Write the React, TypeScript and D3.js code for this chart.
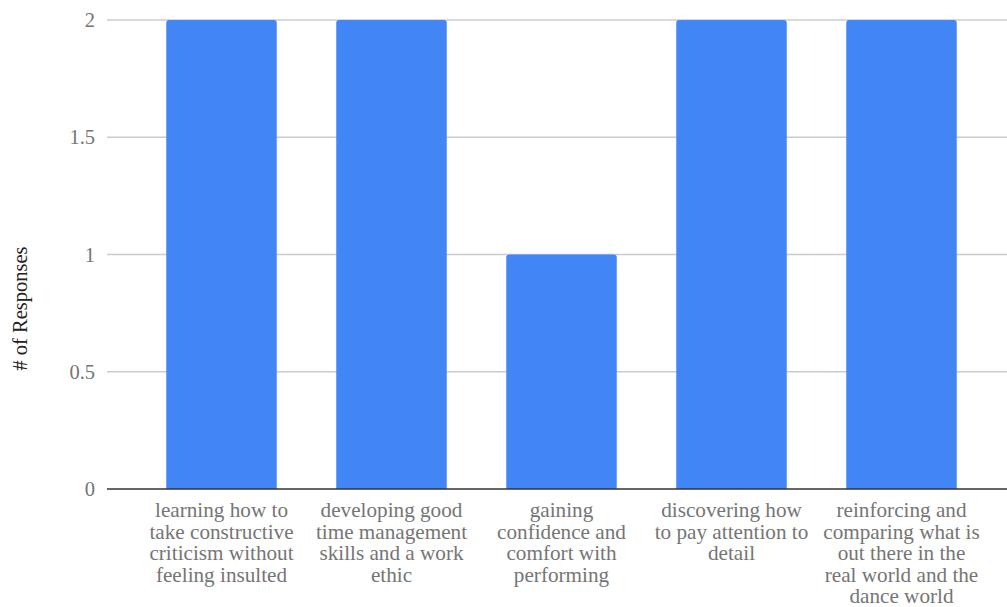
import React from "react";
import * as d3 from "d3";

const categories: string[][] = [
  ["learning how to", "take constructive", "criticism without", "feeling insulted"],
  ["developing good", "time management", "skills and a work", "ethic"],
  ["gaining", "confidence and", "comfort with", "performing"],
  ["discovering how", "to pay attention to", "detail"],
  ["reinforcing and", "comparing what is", "out there in the", "real world and the", "dance world"],
];
const values: number[] = [2, 2, 1, 2, 2];
const yTicks: number[] = [0, 0.5, 1, 1.5, 2];
const yTitle = "# of Responses";

const W = 1007;
const H = 607;
const FONT = "'Liberation Serif', 'Times New Roman', serif";

export default function App() {
  const x = d3
    .scaleBand<number>()
    .domain(values.map((_, i) => i))
    .range([136.5, 986.5])
    .paddingInner(0.35)
    .paddingOuter(0.175);
  const y = d3.scaleLinear().domain([0, 2]).range([489, 20]);
  const r = 3;
  const barPath = (x0: number, y0: number, w: number, h: number) =>
    `M${x0},${y0 + h}V${y0 + r}Q${x0},${y0} ${x0 + r},${y0}H${x0 + w - r}Q${x0 + w},${y0} ${x0 + w},${y0 + r}V${y0 + h}Z`;
  return (
    <svg
      width={W}
      height={H}
      style={{ position: "absolute", left: 0, top: 0, display: "block" }}
      fontFamily={FONT}
    >
      <rect width={W} height={H} fill="#fff" />
      {yTicks.map((t) => (
        <g key={t}>
          {t !== 0 && (
            <line x1={107} x2={W} y1={y(t)} y2={y(t)} stroke="#cccccc" strokeWidth={1.5} />
          )}
          <text
            x={95}
            y={y(t)}
            dy="0.35em"
            textAnchor="end"
            fontSize={20.5}
            fill="#757575"
          >
            {t}
          </text>
        </g>
      ))}
      {values.map((v, i) => (
        <path
          key={i}
          d={barPath(x(i)!, y(v), x.bandwidth(), y(0) - y(v))}
          fill="#4285F4"
        />
      ))}
      <line x1={107} x2={W} y1={y(0)} y2={y(0)} stroke="#333333" strokeWidth={1.5} />
      {categories.map((lines, i) => (
        <text
          key={i}
          x={x(i)! + x.bandwidth() / 2}
          y={517}
          textAnchor="middle"
          fontSize={21.2}
          fill="#757575"
        >
          {lines.map((l, j) => (
            <tspan key={j} x={x(i)! + x.bandwidth() / 2} dy={j === 0 ? 0 : 21.6}>
              {l}
            </tspan>
          ))}
        </text>
      ))}
      <text
        transform={`translate(27,${308.5}) rotate(-90)`}
        textAnchor="middle"
        fontSize={20.5}
        fill="#222222"
      >
        {yTitle}
      </text>
    </svg>
  );
}
